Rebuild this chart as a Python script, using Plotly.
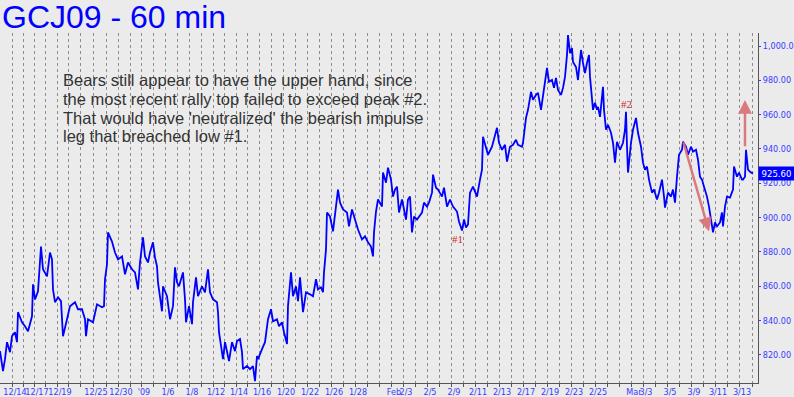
import plotly.graph_objects as go

# ---- data (hourly bar index, price) ----
hours = [0, 6, 10, 14, 20, 24, 30, 34, 36, 44, 50, 56, 64, 66, 70, 76, 82, 86, 94, 100,
         104, 106, 110, 116, 122, 124, 126, 134, 140, 150, 156, 164, 170, 172, 176, 186, 194, 204, 208, 210,
         214, 216, 224, 230, 236, 244, 250, 256, 264, 270, 276, 280, 286, 290, 296,
         300, 306, 310, 314, 316, 324, 326, 334, 340, 346, 350, 354, 358, 366, 370,
         372, 378, 384, 386, 392, 396, 404, 410, 416, 420, 426, 434, 436, 438, 442,
         446, 450, 454, 458, 464, 470, 474, 480, 484, 486, 494, 500, 506, 510, 514,
         516, 524, 530, 536, 542, 546, 554, 558, 564, 568, 574, 576, 582, 586, 592, 596,
         600, 606, 612, 620, 626, 632, 636, 642, 646, 648, 652, 654, 660, 666, 672,
         676, 680, 686, 694, 698, 704, 710, 716, 724, 730, 736, 742, 746, 748, 752,
         756, 764, 766, 772, 776, 782, 786, 790, 794, 798, 804, 808, 812, 816, 820,
         824, 828, 834, 838, 844, 848, 854, 858, 864, 866, 872, 876, 884, 888, 894,
         900, 906, 914, 918, 924, 928, 932, 936, 940, 946, 950, 954, 960, 964, 966,
         972, 976, 984, 990, 994, 998, 1004, 1010, 1014, 1020, 1026, 1032, 1036, 1044, 1046,
         1052, 1056, 1062, 1066, 1072, 1076, 1082, 1086, 1090, 1094, 1098, 1104, 1108, 1112, 1116,
         1122, 1126, 1130, 1134, 1136, 1140, 1144, 1146, 1152, 1156, 1158, 1162, 1166, 1170, 1174,
         1178, 1180, 1184, 1186, 1190, 1194, 1196,
         1200, 1206, 1208, 1212, 1216, 1222, 1226, 1230, 1234, 1240, 1246, 1250, 1252, 1254, 1256,
         1262, 1266, 1272, 1276, 1282, 1286, 1290, 1294, 1298, 1304, 1308, 1314, 1318, 1324, 1328,
         1330, 1336, 1342, 1346, 1350, 1354, 1358, 1364, 1366, 1372, 1376, 1382, 1386, 1392, 1396,
         1400, 1404, 1408, 1414, 1418, 1422, 1426, 1430, 1434, 1440, 1444, 1446, 1450, 1454, 1460,
         1466, 1468, 1474, 1478, 1484, 1486, 1490, 1492, 1496, 1500, 1506]

prices = [822.1, 810.5, 817.4, 827.3, 821.5, 830.8, 833.1, 827.3, 844.8, 838.9, 836.6, 833.7, 842.4, 861.0, 852.3, 857.0, 883.1, 869.8, 865.7, 879.6,
          875.6, 858.1, 850.6, 853.5, 851.2, 842.4, 830.8, 840.7, 848.3, 850.6, 846.5, 846.5, 840.7, 830.8, 840.7, 838.9, 849.4, 847.7, 848.3, 864.0,
          872.7, 891.3, 886.0, 879.6, 875.6, 877.3, 866.9, 873.8, 869.8, 868.0, 858.1, 873.8, 888.4, 877.3, 873.8,
          879.6, 885.5, 876.7, 871.5, 862.2, 845.3, 859.9, 854.1, 840.7, 848.3, 870.9, 862.2, 859.9, 868.0, 852.3,
          838.9, 848.3, 837.8, 850.6, 865.1, 854.1, 859.9, 856.4, 869.8, 856.4, 852.3, 850.6, 844.8, 833.1, 825.0,
          817.4, 827.3, 821.5, 816.3, 827.3, 822.1, 827.9, 829.1, 821.5, 811.6, 813.4, 811.6, 813.4, 804.6, 819.2,
          817.4, 823.3, 827.3, 840.7, 846.5, 839.5, 840.7, 836.6, 838.9, 833.1, 826.2, 848.3, 868.0, 854.1, 859.9, 851.2,
          865.1, 844.8, 856.4, 855.2, 854.1, 864.0, 858.1, 859.3, 856.4, 868.0, 881.4, 902.9, 900.6, 891.9, 904.7,
          916.3, 908.7, 904.7, 902.9, 894.8, 904.7, 898.8, 893.0, 887.2, 889.0, 885.5, 883.1, 877.3, 891.3, 903.5,
          910.5, 906.4, 926.2, 920.3, 929.1, 922.1, 912.2, 916.3, 918.0, 902.9, 910.5, 904.7, 898.8, 910.5, 912.2,
          891.3, 900.6, 898.8, 900.6, 902.9, 908.7, 906.4, 908.7, 914.5, 925.0, 917.4, 916.3, 912.2, 917.4, 906.4,
          910.5, 906.4, 903.5, 897.7, 892.4, 898.8, 894.2, 895.9, 914.5, 918.0, 915.1, 912.2, 922.1, 927.9, 947.1,
          941.3, 936.6, 941.3, 947.1, 952.3, 943.6, 939.5, 942.4, 932.6, 941.3, 942.4, 945.3, 942.4, 941.3, 943.6,
          958.1, 962.8, 973.3, 968.6, 971.5, 972.7, 962.8, 970.3, 978.5, 987.2, 979.1, 980.2, 975.6, 981.4, 974.4,
          971.5, 975.6, 982.0, 994.8, 1006.4, 995.9, 998.8, 990.7, 987.8, 980.2, 987.8, 997.7, 990.1, 984.3, 990.1,
          994.8, 982.0, 970.3, 962.8, 966.9, 962.8, 964.5,
          958.7, 976.2, 962.8, 951.2, 954.1, 949.4, 943.6, 932.0, 944.2, 939.5, 943.6, 951.2, 961.6, 941.3, 926.2,
          943.6, 951.2, 958.1, 949.4, 941.3, 932.0, 927.9, 929.7, 922.1, 914.5, 916.3, 910.5, 914.5, 922.1, 912.2,
          905.8, 914.5, 912.2, 916.3, 908.7, 923.8, 936.6, 939.5, 944.2, 941.3, 936.6, 941.3, 938.4, 939.5, 933.7,
          923.8, 922.1, 918.0, 912.2, 906.4, 900.0, 891.3, 897.1, 894.8, 897.1, 902.9, 894.8, 906.4, 912.2, 911.6,
          916.3, 929.7, 923.8, 926.2, 922.1, 922.1, 923.8, 939.5, 927.9, 926.7, 925.6]

last_price = 925.60

# session starts (hour index) and their date labels
session_hours = [24, 46, 68, 90, 114, 136, 160, 186, 212, 236, 260, 282, 306, 330, 354, 378,
                 402, 426, 448, 472, 494, 518, 542, 566, 590, 614, 638, 662, 686, 710, 734, 758,
                 782, 806, 830, 854, 878, 902, 926, 950, 974, 998, 1022, 1046, 1070, 1094, 1118, 1142,
                 1166, 1190, 1214, 1238, 1262, 1286, 1310, 1334, 1358, 1382, 1406, 1430, 1454, 1478, 1504]
session_labels = ["12/14", "", "12/17", "", "12/19", "", "", "12/25", "", "12/30", "", "'09",
                  "", "1/6", "", "1/8", "", "1/12", "", "1/14", "", "1/16", "", "1/20",
                  "", "1/22", "", "1/26", "", "1/28", "", "", "Feb", "2/3", "", "2/5",
                  "", "2/9", "", "2/11", "", "2/13", "", "2/17", "", "2/19", "", "2/23",
                  "", "2/25", "", "", "Mar", "3/3", "", "3/5", "", "3/9", "", "3/11", "", "3/13", ""]

price_ticks = [820, 840, 860, 880, 900, 920, 940, 960, 980, 1000]

# marked pivots
pivot_names = ["#1", "#2"]
pivot_hours = [914, 1252]
pivot_prices = [887.2, 966.3]

# projection arrows: (from_hour, from_price) -> (to_hour, to_price)
arrow_from_hour = [1366, 1490]
arrow_from_price = [944.8, 940.7]
arrow_to_hour = [1418, 1490]
arrow_to_price = [891.9, 968.6]

comment_lines = [
    "Bears still appear to have the upper hand, since",
    "the most recent rally top failed to exceed peak #2.",
    "That would have 'neutralized' the bearish impulse",
    "leg that breached low #1.",
]

BG = "#ebebeb"
BLUE = "#0000ff"
NARROW = "Liberation Sans Narrow, DejaVu Sans Condensed, Arial Narrow, sans-serif"

fig = go.Figure()
fig.add_trace(go.Scatter(x=hours, y=prices, mode="lines",
                         line=dict(color=BLUE, width=1.8), hoverinfo="skip"))

anns = []
anns.append(dict(text="GCJ09 - 60 min", xref="paper", yref="paper", x=0, y=1.047,
                 xanchor="left", yanchor="middle", showarrow=False, xshift=0,
                 font=dict(family="Liberation Sans, Arial", size=32, color=BLUE)))
line_y = [0.866, 0.810, 0.757, 0.707]
for t, yy in zip(comment_lines, line_y):
    anns.append(dict(text=t, xref="paper", yref="paper", x=0.081, y=yy,
                     xanchor="left", yanchor="middle", showarrow=False,
                     font=dict(family="Liberation Sans, Arial", size=16.5, color="#333333")))
for n, hx, py in zip(pivot_names, pivot_hours, pivot_prices):
    anns.append(dict(text=n, x=hx, y=py, xref="x", yref="y", showarrow=False,
                     font=dict(family="Liberation Serif, Times New Roman", size=11, color="#cc2a2a")))
for fh, fp, th, tp in zip(arrow_from_hour, arrow_from_price, arrow_to_hour, arrow_to_price):
    anns.append(dict(text="", x=th, y=tp, ax=fh, ay=fp, xref="x", yref="y",
                     axref="x", ayref="y", showarrow=True, arrowhead=2, arrowsize=1.1,
                     arrowwidth=2.5, arrowcolor="rgba(218,110,112,0.9)", standoff=0))
anns.append(dict(text=f"{last_price:.2f}", x=1, y=last_price, xref="paper", yref="y",
                 xanchor="left", yanchor="middle", showarrow=False, bgcolor=BLUE,
                 borderpad=1, xshift=0, width=33,
                 font=dict(family=NARROW, size=9.5, color="#ffffff")))

fig.update_layout(
    width=794, height=397, autosize=False,
    margin=dict(l=0, r=36, t=33, b=14),
    paper_bgcolor=BG, plot_bgcolor=BG,
    showlegend=False,
    annotations=anns,
    xaxis=dict(range=[0, 1516], tickmode="array", tickvals=session_hours, ticktext=session_labels,
               tickangle=0, automargin=False,
               showgrid=True, gridcolor="#8c8c8c", gridwidth=1, griddash="3px,3px",
               showline=True, linecolor="#555555", linewidth=1, ticks="outside", ticklen=3,
               tickcolor="#555555", tickfont=dict(family=NARROW, size=9, color="#3a3aff"),
               ticklabelshift=3, ticklabelstandoff=-3, zeroline=False, fixedrange=True),
    yaxis=dict(range=[803.5, 1007.6], side="right", tickmode="array", tickvals=price_ticks,
               ticktext=[f"{v:,.2f}" for v in price_ticks], showgrid=False, automargin=False,
               showline=True, linecolor="#555555", linewidth=1, ticks="outside", ticklen=2,
               tickcolor="#3a3aff", tickfont=dict(family=NARROW, size=9, color="#3a3aff"),
               zeroline=False, fixedrange=True),
)

fig.write_html("out.html", config={"displayModeBar": False},
               post_script="document.body.style.margin='0px';document.body.style.padding='0px';"
                           "document.documentElement.style.overflow='hidden';")
